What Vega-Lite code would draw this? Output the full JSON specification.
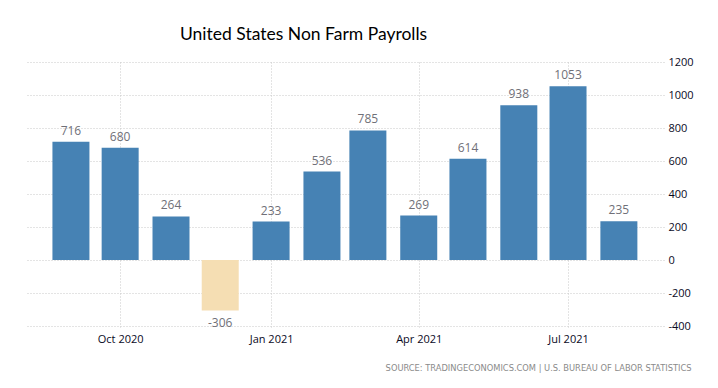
{
  "$schema": "https://vega.github.io/schema/vega-lite/v6.json",
  "width": 639,
  "height": 264,
  "autosize": "none",
  "padding": {"left": 25, "top": 62, "right": 54, "bottom": 62},
  "background": "white",
  "title": {
    "text": "United States Non Farm Payrolls",
    "anchor": "start",
    "dx": 155,
    "offset": 13,
    "font": "Lato",
    "fontSize": 17.5,
    "fontWeight": "normal",
    "color": "#000000"
  },
  "config": {
    "view": {"stroke": null},
    "axis": {"labelFont": "Open Sans", "labelFontSize": 11, "labelColor": "#0a0a1e"}
  },
  "data": {
    "values": [
      {"date": "2020-09-01", "value": 716},
      {"date": "2020-10-01", "value": 680},
      {"date": "2020-11-01", "value": 264},
      {"date": "2020-12-01", "value": -306},
      {"date": "2021-01-01", "value": 233},
      {"date": "2021-02-01", "value": 536},
      {"date": "2021-03-01", "value": 785},
      {"date": "2021-04-01", "value": 269},
      {"date": "2021-05-01", "value": 614},
      {"date": "2021-06-01", "value": 938},
      {"date": "2021-07-01", "value": 1053},
      {"date": "2021-08-01", "value": 235}
    ]
  },
  "encoding": {
    "x": {
      "field": "date",
      "type": "temporal",
      "scale": {
        "type": "utc",
        "padding": 0,
        "domain": [
          {"year": 2020, "month": 8, "date": 4, "utc": true},
          {"year": 2021, "month": 8, "date": 28, "hours": 12, "utc": true}
        ]
      },
      "axis": {
        "values": [
          {"year": 2020, "month": 10, "date": 1, "utc": true},
          {"year": 2021, "month": 1, "date": 1, "utc": true},
          {"year": 2021, "month": 4, "date": 1, "utc": true},
          {"year": 2021, "month": 7, "date": 1, "utc": true}
        ],
        "labelExpr": "utcFormat(datum.value, '%b %Y')",
        "domain": false,
        "ticks": true,
        "tickColor": "#cccccc",
        "tickDash": [1, 2],
        "tickSize": 3,
        "labelPadding": 4,
        "grid": true,
        "gridColor": "#c8c8c8",
        "gridDash": [1, 2],
        "title": "SOURCE: TRADINGECONOMICS.COM  |  U.S. BUREAU OF LABOR STATISTICS",
        "titleFont": "DejaVu Sans",
        "titleFontSize": 8.3,
        "titleFontWeight": "normal",
        "titleColor": "#8a8a8a",
        "titleAnchor": "end",
        "titleAlign": "right",
        "titleBaseline": "middle",
        "titleX": 666,
        "titleY": 42
      }
    },
    "y": {
      "field": "value",
      "type": "quantitative",
      "scale": {"domain": [-400, 1200], "nice": false, "zero": false},
      "axis": {
        "orient": "right",
        "values": [-400, -200, 0, 200, 400, 600, 800, 1000, 1200],
        "labelExpr": "'' + datum.value",
        "domain": false,
        "ticks": false,
        "labelPadding": 4,
        "labelAlign": "left",
        "grid": true,
        "gridColor": "#c8c8c8",
        "gridDash": [1, 2],
        "title": null
      }
    }
  },
  "layer": [
    {
      "mark": {"type": "bar", "width": 37},
      "encoding": {
        "y2": {"datum": 0},
        "color": {
          "condition": {"test": "datum.value < 0", "value": "#F5DEB3"},
          "value": "#4682B4"
        }
      }
    },
    {
      "transform": [{"filter": "datum.value >= 0"}],
      "mark": {"type": "text", "baseline": "alphabetic", "dy": -7, "font": "Open Sans", "fontSize": 12, "color": "#707078"},
      "encoding": {"text": {"field": "value", "type": "nominal"}}
    },
    {
      "transform": [{"filter": "datum.value < 0"}],
      "mark": {"type": "text", "baseline": "top", "dy": 8, "font": "Open Sans", "fontSize": 12, "color": "#707078"},
      "encoding": {"text": {"field": "value", "type": "nominal"}}
    }
  ]
}
